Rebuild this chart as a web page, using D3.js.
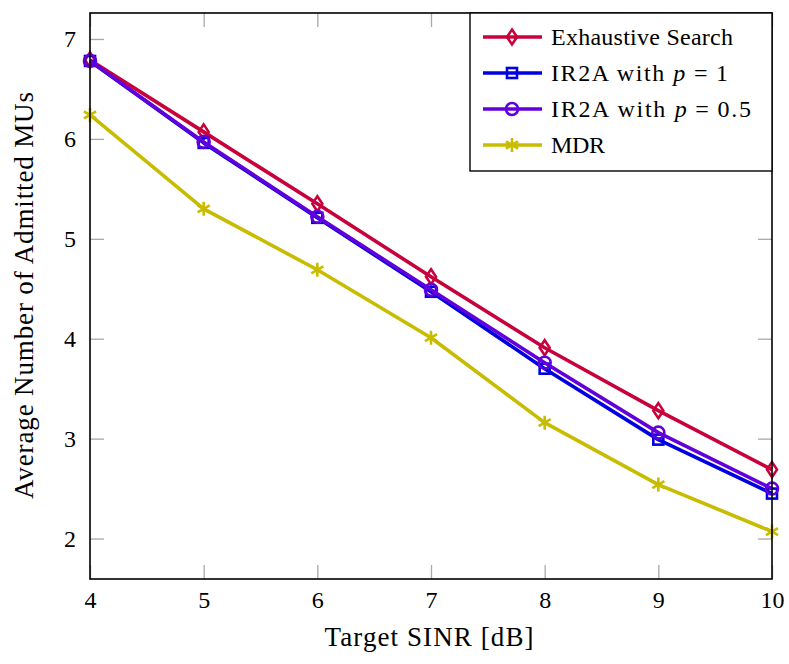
<!DOCTYPE html>
<html>
<head>
<meta charset="utf-8">
<script src="https://cdn.jsdelivr.net/npm/d3@7"></script>
<style>
  body { margin: 0; background: #fff; }
</style>
</head>
<body>
<div id="chart"></div>
<script>
// data
const sinr = [4, 5, 6, 7, 8, 9, 10];
const exhaustive = [6.79, 6.07, 5.35, 4.62, 3.91, 3.28, 2.69];
const ir2aP1 = [6.78, 5.96, 5.21, 4.47, 3.70, 2.99, 2.45];
const ir2aP05 = [6.78, 5.97, 5.22, 4.49, 3.76, 3.06, 2.50];
const mdr = [6.24, 5.30, 4.69, 4.01, 3.16, 2.54, 2.07];
const yTicks = [2, 3, 4, 5, 6, 7];

const series = [
    { name: "Exhaustive Search", values: exhaustive, color: "#c8003c", marker: "diamond", len: 182 },
    { name: "IR2A with p = 1", values: ir2aP1, color: "#0000e0", marker: "square", len: 177 },
    { name: "IR2A with p = 0.5", values: ir2aP05, color: "#6200dc", marker: "circle", len: 200 },
    { name: "MDR", values: mdr, color: "#c8bc00", marker: "asterisk", len: 54 }
];

const serif = "Liberation Serif";

// canvas
const W = 789, H = 664;
const margins = { top: 13, right: 17, bottom: 85, left: 90 };
const width = W - margins.left - margins.right;
const height = H - margins.top - margins.bottom;

const svg = d3.select("#chart").append("svg")
    .attr("width", W)
    .attr("height", H)
    .attr("font-family", serif);

const g = svg.append("g")
    .attr("transform", "translate(" + margins.left + "," + margins.top + ")");

const xScale = d3.scaleLinear().domain([4, 10]).range([0, width]);
const yScale = d3.scaleLinear().domain([1.595, 7.26]).range([height, 0]);

const tickLen = 14;
const tickColor = "#a8a8a8";

// inner ticks on all four sides
g.append("g").attr("transform", "translate(0," + height + ")")
    .call(d3.axisBottom(xScale).tickValues(sinr).tickSize(-tickLen).tickPadding(12).tickFormat(d3.format("d")))
    .call(a => a.select(".domain").remove());
g.append("g")
    .call(d3.axisTop(xScale).tickValues(sinr).tickSize(-tickLen).tickFormat(""))
    .call(a => a.select(".domain").remove());
g.append("g")
    .call(d3.axisLeft(yScale).tickValues(yTicks).tickSize(-tickLen).tickPadding(14).tickFormat(d3.format("d")))
    .call(a => a.select(".domain").remove());
g.append("g").attr("transform", "translate(" + width + ",0)")
    .call(d3.axisRight(yScale).tickValues(yTicks).tickSize(-tickLen).tickFormat(""))
    .call(a => a.select(".domain").remove());

g.selectAll(".tick line").attr("stroke", tickColor).attr("stroke-width", 1.3);
g.selectAll("g").attr("font-family", serif).attr("font-size", 24);
g.selectAll(".tick text").attr("fill", "#000");

// lines
const line = d3.line()
    .x((d, i) => xScale(sinr[i]))
    .y(d => yScale(d));

function drawMarker(sel, type, color) {
    if (type === "diamond") {
        sel.append("path").attr("d", "M0,-7.5L5,0L0,7.5L-5,0Z")
            .attr("fill", "none").attr("stroke", color).attr("stroke-width", 2.6);
    } else if (type === "square") {
        sel.append("rect").attr("x", -5).attr("y", -5).attr("width", 10).attr("height", 10)
            .attr("fill", "none").attr("stroke", color).attr("stroke-width", 2.6);
    } else if (type === "circle") {
        sel.append("circle").attr("r", 6)
            .attr("fill", "none").attr("stroke", color).attr("stroke-width", 2.6);
    } else {
        let p = "";
        [90, 30, -30].forEach(a => {
            const r = 7, t = a * Math.PI / 180;
            p += "M" + (-r * Math.cos(t)) + "," + (-r * Math.sin(t)) + "L" + (r * Math.cos(t)) + "," + (r * Math.sin(t));
        });
        sel.append("path").attr("d", p).attr("stroke", color).attr("stroke-width", 2.6);
    }
}

series.forEach(s => {
    g.append("path")
        .datum(s.values)
        .attr("d", line)
        .attr("fill", "none")
        .attr("stroke", s.color)
        .attr("stroke-width", 3.6)
        .attr("stroke-linejoin", "round");
    s.values.forEach((v, i) => {
        const m = g.append("g").attr("transform", "translate(" + xScale(sinr[i]) + "," + yScale(v) + ")");
        drawMarker(m, s.marker, s.color);
    });
});

// frame
g.append("rect")
    .attr("width", width).attr("height", height)
    .attr("fill", "none").attr("stroke", "#000").attr("stroke-width", 1.6);

// axis titles
svg.append("text")
    .attr("x", 429)
    .attr("y", 646)
    .attr("text-anchor", "middle")
    .attr("font-size", 27)
    .attr("textLength", 209)
    .attr("lengthAdjust", "spacing")
    .text("Target SINR [dB]");

svg.append("text")
    .attr("transform", "translate(33,295.5) rotate(-90)")
    .attr("text-anchor", "middle")
    .attr("font-size", 27)
    .attr("textLength", 407)
    .attr("lengthAdjust", "spacing")
    .text("Average Number of Admitted MUs");

// legend
const legend = g.append("g").attr("transform", "translate(" + (width - 302) + ",0)");
legend.append("rect")
    .attr("width", 302).attr("height", 158)
    .attr("fill", "#fff").attr("stroke", "#000").attr("stroke-width", 1.4);

series.forEach((s, i) => {
    const yy = 24 + i * 36;
    const row = legend.append("g").attr("transform", "translate(0," + yy + ")");
    row.append("line").attr("x1", 13).attr("x2", 72).attr("y1", 0).attr("y2", 0)
        .attr("stroke", s.color).attr("stroke-width", 3.6);
    drawMarker(row.append("g").attr("transform", "translate(42,0)"), s.marker, s.color);
    const t = row.append("text").attr("x", 81).attr("y", 8).attr("font-size", 24)
        .attr("textLength", s.len).attr("lengthAdjust", "spacing");
    if (s.name.indexOf("p =") >= 0) {
        const rest = s.name.split("p =")[1];
        t.append("tspan").text("IR2A with ");
        t.append("tspan").attr("font-style", "italic").text("p");
        t.append("tspan").attr("dx", 7).text("=");
        t.append("tspan").attr("dx", 7).text(rest.trim());
    } else {
        t.text(s.name);
    }
});
</script>
</body>
</html>
